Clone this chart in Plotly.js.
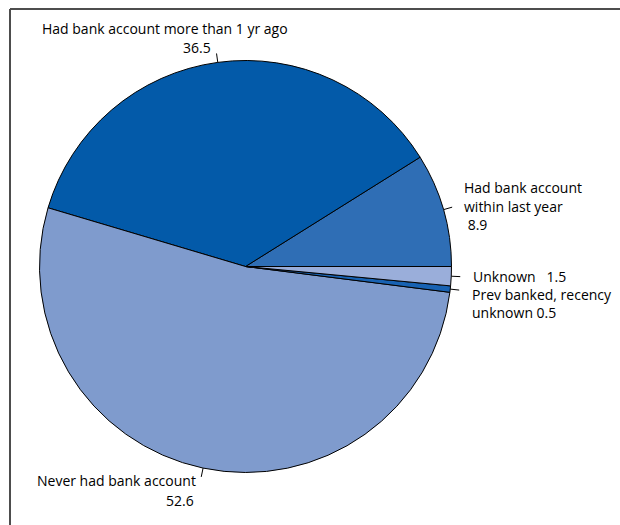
<!DOCTYPE html>
<html>
<head>
<meta charset="utf-8">
<script src="https://cdn.plot.ly/plotly-3.0.1.min.js"></script>
<style>html,body{margin:0;padding:0;background:#fff;}#chart{width:620px;height:525px;}</style>
</head>
<body>
<div id="chart"></div>
<script>
// Data (percent)
var categories = ["Had bank account within last year", "Had bank account more than 1 yr ago", "Never had bank account", "Prev banked, recency unknown", "Unknown"];
var values = [8.9, 36.5, 52.6, 0.5, 1.5];
var sliceColors = ["#2F6EB5", "#035AA9", "#7F9BCD", "#1862B2", "#9AAEDA"];
// Label lines for each slice (text shown outside pie)
var labelLines = [
  ["Had bank account", "within last year", " 8.9"],
  ["Had bank account more than 1 yr ago", "36.5"],
  ["Never had bank account", "52.6"],
  ["Prev banked, recency", "unknown 0.5"],
  ["Unknown   1.5"]
];

var W = 620, H = 525;
var cx = 245.5, cy = 266.5, R = 206;

var total = values.reduce(function(a, b){return a + b;}, 0);

var trace = {
  type: "pie",
  labels: categories,
  values: values,
  sort: false,
  direction: "counterclockwise",
  rotation: 90 - values[0] / total * 360,
  textinfo: "none",
  hoverinfo: "none",
  marker: {colors: sliceColors, line: {color: "#000000", width: 1}},
  domain: {x: [(cx - R) / W, (cx + R) / W], y: [1 - (cy + R) / H, 1 - (cy - R) / H]},
  showlegend: false
};

// leader lines computed from slice mid angles
var shapes = [];
var cum = 0;
values.forEach(function(v){
  var mid = (cum + v / 2) / total * 2 * Math.PI; // ccw from 3 o'clock
  cum += v;
  var x0 = cx + R * Math.cos(mid), y0 = cy - R * Math.sin(mid);
  var x1 = cx + (R + 9) * Math.cos(mid), y1 = cy - (R + 9) * Math.sin(mid);
  shapes.push({type: "line", xref: "paper", yref: "paper",
    x0: x0 / W, y0: 1 - y0 / H, x1: x1 / W, y1: 1 - y1 / H,
    line: {color: "#000", width: 1}});
});
// frame
shapes.push({type: "line", xref: "paper", yref: "paper", x0: 10 / W, y0: 1 - 9 / H, x1: 1, y1: 1 - 9 / H, line: {color: "#4d4d4d", width: 2}});
shapes.push({type: "line", xref: "paper", yref: "paper", x0: 10 / W, y0: 1 - 9 / H, x1: 10 / W, y1: 0, line: {color: "#4d4d4d", width: 2}});

// label placement (pixel anchors)
var labelPos = [
  {x: 463, ys: [187, 206, 224], anchor: "left"},
  {x: [165, 212], ys: [29, 47], anchor: ["center", "right"]},
  {x: [197, 195], ys: [480, 500], anchor: ["right", "right"]},
  {x: 471, ys: [294, 312], anchor: "left"},
  {x: 472, ys: [276], anchor: "left"}
];
var annotations = [];
labelLines.forEach(function(lines, i){
  var p = labelPos[i];
  lines.forEach(function(t, j){
    var px = Array.isArray(p.x) ? p.x[j] : p.x;
    var an = Array.isArray(p.anchor) ? p.anchor[j] : p.anchor;
    annotations.push({text: t, xref: "paper", yref: "paper",
      x: px / W, y: 1 - p.ys[j] / H, xanchor: an, yanchor: "middle",
      showarrow: false, borderpad: 0, font: {size: 14, color: "#000"}});
  });
});

var layout = {
  width: W, height: H,
  margin: {l: 0, r: 0, t: 0, b: 0},
  paper_bgcolor: "#fff",
  font: {family: "Open Sans, sans-serif", size: 14, color: "#000"},
  shapes: shapes,
  annotations: annotations,
  showlegend: false
};
Plotly.newPlot("chart", [trace], layout, {displayModeBar: false, staticPlot: true});
</script>
</body>
</html>
